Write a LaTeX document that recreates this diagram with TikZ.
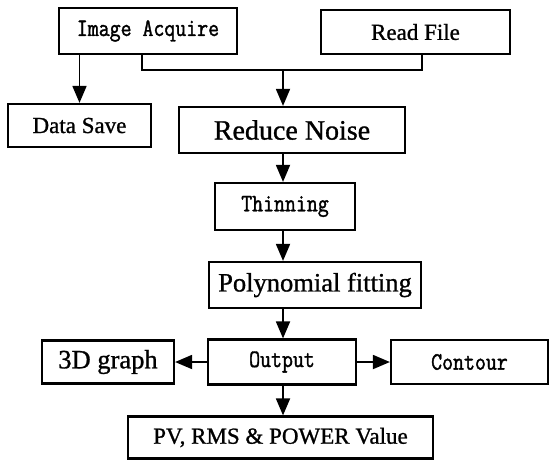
\documentclass[tikz,border=0pt]{standalone}
\usepackage{fontspec}
\setmainfont{Liberation Serif}
\newfontfamily\serifb[FakeBold=1]{Liberation Serif}
\newfontfamily\monof[FakeStretch=0.85,FakeBold=1.5]{Latin Modern Mono}
\usetikzlibrary{arrows.meta}
\tikzset{
  box/.style={draw, line width=2.2pt, rectangle, inner sep=0pt, anchor=center},
  serifA/.style={font=\serifb\fontsize{23}{26}\selectfont},
  serifB/.style={font=\serifb\fontsize{26.5}{30}\selectfont},
  mono/.style={font=\monof\fontsize{25}{28}\selectfont},
  arr/.style={line width=1.8pt, -{Triangle[length=17pt,width=14pt]}},
  ln/.style={line width=1.8pt},
}
\begin{document}
\begin{tikzpicture}[x=1pt,y=-1pt]
\useasboundingbox (0,0) rectangle (553,461);
\node[box,mono,minimum width=178pt,minimum height=46pt] (IA) at (148,31) {Image Acquire};
\node[box,serifA,minimum width=189pt,minimum height=44pt] (RF) at (415.5,32) {Read File};
\node[box,serifA,minimum width=143pt,minimum height=43pt] (DS) at (79.5,125.5) {Data Save};
\node[box,font=\serifb\fontsize{28}{32}\selectfont,minimum width=226pt,minimum height=46pt] (RN) at (292,130) {Reduce Noise};
\node[box,mono,minimum width=140pt,minimum height=47pt] (TH) at (285,206.5) {Thinning\hspace{8pt}};
\node[box,serifB,minimum width=212pt,minimum height=46pt] (PF) at (315,285) {Polynomial fitting};
\node[box,mono,minimum width=148pt,minimum height=45pt] (OUT) at (282,362) {Output};
\node[box,serifB,minimum width=132pt,minimum height=43pt] (G3) at (108,362) {3D graph};
\node[box,mono,minimum width=157pt,minimum height=44pt] (CT) at (469.5,362) {Contour};
\node[box,serifA,minimum width=305pt,minimum height=42pt] (PV) at (280.5,437.5) {PV, RMS \& POWER Value};
\coordinate (j) at (283,70);
\draw[arr] (DS.north |- IA.south) -- (DS.north);
\draw[ln] ([xshift=-6pt]IA.south) |- (j) -| ([xshift=6.5pt]RF.south);
\draw[arr] (j) -- (j |- RN.north);
\draw[arr] (j |- RN.south) -- (j |- TH.north);
\draw[arr] (j |- TH.south) -- (j |- PF.north);
\draw[arr] (j |- PF.south) -- (j |- OUT.north);
\draw[arr] (OUT.west) -- (G3.east);
\draw[arr] (OUT.east) -- (CT.west);
\draw[arr] (j |- OUT.south) -- (j |- PV.north);
\end{tikzpicture}
\end{document}
